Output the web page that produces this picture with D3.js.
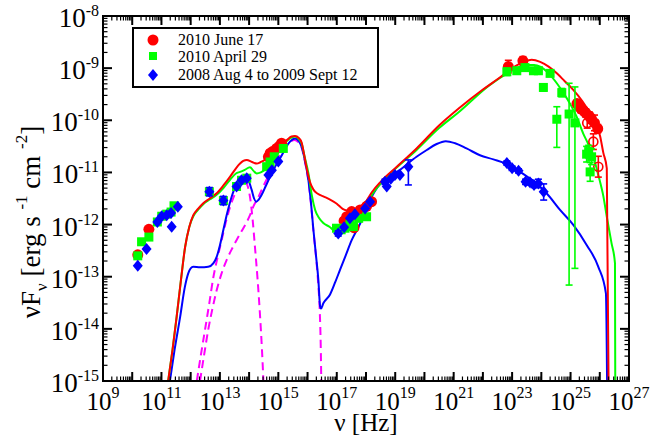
<!DOCTYPE html>
<html><head><meta charset="utf-8">
<script src="https://cdn.jsdelivr.net/npm/d3@7"></script>
<style>body{margin:0;background:#fff}svg{display:block}text{font-family:"Liberation Serif","Times New Roman",serif;fill:#000}</style>
</head><body>
<script>
// ---- data (log10 of nu [Hz] and log10 of nuFnu) ----
const redLogNu = [10.19,10.57,14.66,14.72,14.80,14.94,15.03,15.11,17.25,17.34,17.42,17.51,17.59,17.80,18.02,18.19,22.87,23.37,25.22,25.30,25.36,25.45,25.52,25.64,25.72,25.82,25.93];
const redLogF  = [-12.58,-12.09,-10.70,-10.63,-10.60,-10.54,-10.50,-10.44,-11.93,-11.85,-11.90,-11.75,-12.06,-11.72,-11.65,-11.56,-8.97,-8.86,-9.68,-9.74,-9.78,-9.82,-9.86,-9.92,-9.98,-10.05,-10.16];
const redErr   = [0,0,0,0,0,0,0,0,0,0,0,0,0,0,0,0,0.12,0.08,0.07,0.07,0.08,0.07,0.08,0.08,0.08,0.15,0.08];
const redOpenLogNu = [25.57,25.78,25.95];
const redOpenLogF  = [-10.05,-10.41,-10.89];
const redOpenErr   = [0.10,0.15,0.20];

const greenLogNu = [10.19,10.32,10.57,10.86,11.01,11.18,11.33,11.43,12.64,13.12,13.57,13.74,13.92,14.60,14.72,14.86,15.17,16.99,17.15,17.28,17.45,17.57,17.75,18.02,22.82,23.16,23.44,23.73,23.90,24.07,24.30,24.53,24.70,24.95,25.15,25.55,25.62,25.72,25.67];
const greenLogF  = [-12.60,-12.33,-12.24,-11.95,-11.84,-11.80,-11.76,-11.64,-11.37,-11.54,-11.27,-11.15,-11.11,-10.89,-10.80,-10.70,-10.54,-12.07,-12.10,-12.07,-12.00,-12.04,-11.88,-11.85,-9.07,-9.05,-8.99,-9.05,-9.05,-9.37,-9.10,-9.98,-9.47,-9.88,-10.05,-10.65,-10.60,-10.70,-10.99];
const greenErrLo = [0,0,0,0,0,0,0,0,0,0,0,0,0,0,0,0,0,0,0,0,0,0,0,0,0.07,0.06,0.06,0.05,0.05,0.07,0.06,0.54,0.08,3.28,2.79,0.15,0.12,0.15,0.18];
const greenErrHi = [0,0,0,0,0,0,0,0,0,0,0,0,0,0,0,0,0,0,0,0,0,0,0,0,0.07,0.06,0.06,0.05,0.05,0.07,0.06,0.24,0.08,0.59,0.69,0.15,0.12,0.15,0.18];

const blueLogNu = [10.19,10.49,10.86,11.01,11.18,11.33,11.35,11.56,12.64,13.12,13.57,13.74,13.92,14.66,14.78,15.00,17.05,17.25,17.45,17.62,17.97,18.14,18.65,18.71,18.85,18.99,19.16,19.45,22.82,23.00,23.22,23.46,23.61,23.75,23.90,24.08];
const blueLogF  = [-12.79,-12.47,-11.95,-11.84,-11.82,-11.78,-12.04,-11.66,-11.37,-11.54,-11.27,-11.15,-11.11,-11.05,-10.96,-10.79,-12.17,-12.05,-11.88,-11.80,-11.69,-11.56,-11.18,-11.27,-11.12,-11.05,-11.05,-10.89,-10.82,-10.92,-10.97,-11.18,-11.19,-11.24,-11.21,-11.37];
const blueErrLo = [0,0,0,0,0,0,0,0,0.08,0.08,0,0,0,0,0,0,0.05,0,0,0,0,0,0.05,0,0,0,0,0.35,0.04,0.04,0.04,0.05,0.05,0.05,0.08,0.16];
const blueErrHi = [0,0,0,0,0,0,0,0,0.08,0.08,0,0,0,0,0,0,0.05,0,0,0,0,0,0.05,0,0,0,0,0.13,0.04,0.04,0.04,0.05,0.05,0.05,0.08,0.15];

// model curves
const redModelLogNu = [11.23,11.38,11.52,11.66,11.81,11.95,12.09,12.25,12.43,12.65,12.89,13.12,13.35,13.55,13.69,13.80,13.92,14.10,14.26,14.40,14.54,14.75,14.94,15.12,15.29,15.45,15.57,15.70,15.80,15.88,15.97,16.08,16.20,16.35,16.54,16.77,17.00,17.20,17.40,17.60,17.80,18.02,18.20,18.50,19.00,19.73,20.50,21.16,22.00,22.58,23.00,23.40,23.67,23.96,24.25,24.53,24.80,25.10,25.40,25.67,25.85,26.01,26.12,26.24,26.30];
const redModelLogF  = [-15.0,-14.4,-13.77,-13.1,-12.43,-12.05,-11.82,-11.70,-11.59,-11.50,-11.40,-11.25,-11.08,-10.92,-10.83,-10.78,-10.76,-10.80,-10.83,-10.80,-10.76,-10.66,-10.54,-10.45,-10.38,-10.31,-10.30,-10.34,-10.43,-10.65,-10.92,-11.18,-11.33,-11.41,-11.46,-11.52,-11.60,-11.70,-11.74,-11.76,-11.66,-11.54,-11.38,-11.18,-10.92,-10.54,-10.10,-9.78,-9.41,-9.18,-9.00,-8.88,-8.84,-8.88,-8.97,-9.10,-9.25,-9.42,-9.63,-9.87,-10.06,-10.30,-10.62,-10.92,-15.0];
const greenModelLogNu = [11.23,11.38,11.52,11.66,11.81,11.95,12.09,12.25,12.43,12.65,12.89,13.12,13.35,13.55,13.69,13.85,14.03,14.15,14.26,14.40,14.54,14.75,14.94,15.12,15.29,15.45,15.57,15.70,15.80,15.90,16.03,16.15,16.26,16.40,16.54,16.77,16.88,17.05,17.22,17.40,17.57,17.75,17.97,18.17,18.37,18.80,19.73,20.50,21.16,22.24,22.93,23.20,23.50,23.75,23.96,24.25,24.53,24.75,25.00,25.20,25.43,25.60,25.78,25.95,26.12,26.24,26.40,26.52,26.53];
const greenModelLogF  = [-15.0,-14.4,-13.77,-13.1,-12.43,-12.05,-11.84,-11.72,-11.61,-11.52,-11.43,-11.30,-11.14,-11.02,-10.99,-10.95,-10.90,-10.97,-11.02,-11.00,-10.95,-10.80,-10.67,-10.52,-10.40,-10.33,-10.31,-10.36,-10.45,-10.70,-11.02,-11.45,-11.72,-11.88,-11.97,-12.05,-12.10,-12.11,-12.10,-12.06,-12.01,-11.86,-11.69,-11.46,-11.30,-11.04,-10.57,-10.15,-9.85,-9.32,-9.07,-8.99,-8.94,-8.94,-8.97,-9.10,-9.29,-9.47,-9.70,-9.92,-10.25,-10.45,-10.70,-11.05,-11.45,-11.85,-12.35,-12.74,-15.0];
const blueModelLogNu = [11.29,11.45,11.64,11.80,11.92,12.00,12.09,12.32,12.60,12.78,12.89,13.00,13.12,13.25,13.40,13.55,13.69,13.80,13.92,14.00,14.09,14.17,14.24,14.33,14.43,14.57,14.72,14.92,15.12,15.28,15.40,15.57,15.70,15.80,15.92,16.03,16.12,16.20,16.29,16.37,16.43,16.46,16.54,16.77,16.95,17.11,17.30,17.51,17.80,18.14,18.40,18.71,19.16,19.73,20.08,20.40,20.73,21.05,21.44,21.90,22.36,22.82,23.30,23.75,24.18,24.64,25.10,25.55,25.95,26.21,26.25];
const blueModelLogF  = [-15.0,-14.4,-13.77,-13.2,-12.93,-12.84,-12.81,-12.82,-12.81,-12.74,-12.62,-12.40,-12.10,-11.78,-11.47,-11.25,-11.15,-11.10,-11.09,-11.18,-11.34,-11.50,-11.56,-11.52,-11.43,-11.26,-11.08,-10.86,-10.67,-10.50,-10.41,-10.35,-10.40,-10.51,-10.80,-11.15,-11.60,-12.10,-12.60,-13.06,-13.57,-13.61,-13.51,-13.34,-13.10,-12.87,-12.60,-12.30,-11.98,-11.53,-11.28,-11.11,-10.95,-10.70,-10.57,-10.46,-10.40,-10.44,-10.54,-10.67,-10.75,-10.84,-11.00,-11.18,-11.40,-11.72,-12.01,-12.39,-12.81,-13.32,-15.0];
const torusLogNu = [12.21,12.35,12.49,12.64,12.78,12.92,13.06,13.20,13.35,13.50,13.63,13.75,13.86,13.95,14.03,14.12,14.20,14.29,14.37,14.44,14.49];
const torusLogF  = [-15.0,-14.5,-14.02,-13.5,-13.0,-12.63,-12.30,-11.96,-11.66,-11.43,-11.27,-11.20,-11.18,-11.26,-11.47,-11.90,-12.43,-13.05,-13.71,-14.4,-15.0];
const diskLogNu = [12.32,12.46,12.60,12.75,12.89,13.05,13.23,13.40,13.57,13.75,13.92,14.03,14.14,14.32,14.50,14.72,14.92,15.12,15.28,15.40,15.55,15.68,15.80,15.92,16.03,16.12,16.20,16.29,16.36,16.42,16.45,16.47];
const diskLogF  = [-15.0,-14.5,-14.02,-13.6,-13.26,-12.95,-12.68,-12.48,-12.30,-12.12,-11.95,-11.82,-11.66,-11.47,-11.25,-11.00,-10.80,-10.62,-10.48,-10.42,-10.38,-10.42,-10.53,-10.82,-11.17,-11.62,-12.12,-12.62,-13.10,-13.70,-14.30,-15.0];

const xLabelExps = [9,11,13,15,17,19,21,23,25,27];
const yLabelExps = [-15,-14,-13,-12,-11,-10,-9,-8];
const legendLabels = ["2010 June 17","2010 April 29","2008 Aug 4 to 2009 Sept 12"];

// ---- drawing ----
const W=654,H=436, L=103,R=629,T=16,B=381;
const svg=d3.select("body").append("svg").attr("width",W).attr("height",H);
const x=d3.scaleLog().domain([1e9,1e27]).range([L,R]);
const y=d3.scaleLog().domain([1e-15,1e-8]).range([B,T]);
const P=v=>Math.pow(10,v);
svg.append("defs").append("clipPath").attr("id","clip").append("rect").attr("x",L).attr("y",T).attr("width",R-L).attr("height",B-T);
const plot=svg.append("g").attr("clip-path","url(#clip)");

const line=d3.line().x(d=>x(P(d[0]))).y(d=>y(P(d[1]))).curve(d3.curveMonotoneX);
const zip=(a,b)=>a.map((v,i)=>[v,b[i]]);
plot.append("path").datum(zip(torusLogNu,torusLogF)).attr("d",line).attr("fill","none").attr("stroke","#ff00ff").attr("stroke-width",2).attr("stroke-dasharray","8,5");
plot.append("path").datum(zip(diskLogNu,diskLogF)).attr("d",line).attr("fill","none").attr("stroke","#ff00ff").attr("stroke-width",2).attr("stroke-dasharray","8,5");
plot.append("path").datum(zip(blueModelLogNu,blueModelLogF)).attr("d",line).attr("fill","none").attr("stroke","#0000ff").attr("stroke-width",2);
plot.append("path").datum(zip(greenModelLogNu,greenModelLogF)).attr("d",line).attr("fill","none").attr("stroke","#00ff00").attr("stroke-width",2);
plot.append("path").datum(zip(redModelLogNu,redModelLogF)).attr("d",line).attr("fill","none").attr("stroke","#ff0000").attr("stroke-width",2);

function errBars(nu,f,lo,hi,col){
  const g=plot.append("g").attr("stroke",col).attr("stroke-width",1.6);
  nu.forEach((n,i)=>{
    if(!lo[i]&&!hi[i])return;
    const cx=x(P(n)), y1=y(P(f[i]-lo[i])), y2=y(P(f[i]+hi[i]));
    g.append("line").attr("x1",cx).attr("x2",cx).attr("y1",y1).attr("y2",y2);
    g.append("line").attr("x1",cx-3.5).attr("x2",cx+3.5).attr("y1",y1).attr("y2",y1);
    g.append("line").attr("x1",cx-3.5).attr("x2",cx+3.5).attr("y1",y2).attr("y2",y2);
  });
}
errBars(redLogNu,redLogF,redErr,redErr,"#ff0000");
errBars(redOpenLogNu,redOpenLogF,redOpenErr,redOpenErr,"#ff0000");
plot.append("g").selectAll("circle").data(d3.range(redLogNu.length)).join("circle")
  .attr("cx",i=>x(P(redLogNu[i]))).attr("cy",i=>y(P(redLogF[i]))).attr("r",5.5).attr("fill","#ff0000");
plot.append("g").selectAll("circle").data(d3.range(redOpenLogNu.length)).join("circle")
  .attr("cx",i=>x(P(redOpenLogNu[i]))).attr("cy",i=>y(P(redOpenLogF[i]))).attr("r",4.5).attr("fill","none").attr("stroke","#ff0000").attr("stroke-width",1.6);
errBars(greenLogNu,greenLogF,greenErrLo,greenErrHi,"#00ff00");
plot.append("g").selectAll("rect").data(d3.range(greenLogNu.length)).join("rect")
  .attr("x",i=>x(P(greenLogNu[i]))-4.5).attr("y",i=>y(P(greenLogF[i]))-4.5).attr("width",9).attr("height",9).attr("fill","#00ff00");
errBars(blueLogNu,blueLogF,blueErrLo,blueErrHi,"#0000ff");
const diamond="M0,-6L5,0L0,6L-5,0Z";
plot.append("g").selectAll("path").data(d3.range(blueLogNu.length)).join("path")
  .attr("d",diamond).attr("transform",i=>`translate(${x(P(blueLogNu[i]))},${y(P(blueLogF[i]))})`).attr("fill","#0000ff");

// frame + ticks
const ax=svg.append("g").attr("stroke","#000");
ax.append("rect").attr("x",L).attr("y",T).attr("width",R-L).attr("height",B-T).attr("fill","none").attr("stroke-width",2);
for(let e=9;e<=27;e++){
  for(let k=1;k<=9;k++){
    if(e===27&&k>1)break;
    const v=k*P(e), px=x(v), len=k===1?9:4.5;
    ax.append("line").attr("x1",px).attr("x2",px).attr("y1",B).attr("y2",B-len).attr("stroke-width",k===1?2:1.2);
    ax.append("line").attr("x1",px).attr("x2",px).attr("y1",T).attr("y2",T+len).attr("stroke-width",k===1?2:1.2);
  }
}
for(let e=-15;e<=-8;e++){
  for(let k=1;k<=9;k++){
    if(e===-8&&k>1)break;
    const v=k*P(e), py=y(v), len=k===1?9:4.5;
    ax.append("line").attr("y1",py).attr("y2",py).attr("x1",L).attr("x2",L+len).attr("stroke-width",k===1?2:1.2);
    ax.append("line").attr("y1",py).attr("y2",py).attr("x1",R).attr("x2",R-len).attr("stroke-width",k===1?2:1.2);
  }
}
// tick labels
xLabelExps.forEach(e=>{
  const t=svg.append("text").attr("x",x(P(e))).attr("y",410).attr("text-anchor","middle").attr("font-size",25);
  t.append("tspan").text("10");
  t.append("tspan").attr("dy",-12).attr("font-size",16).text(e);
});
yLabelExps.forEach(e=>{
  const t=svg.append("text").attr("x",99).attr("y",y(P(e))+11).attr("text-anchor","end").attr("font-size",27);
  t.append("tspan").text("10");
  t.append("tspan").attr("dy",-11).attr("font-size",16).text(e);
});
// axis titles
const xt=svg.append("text").attr("x",366).attr("y",431).attr("text-anchor","middle").attr("font-size",25);
xt.append("tspan").text("\u03bd [Hz]");
const yt=svg.append("text").attr("transform","translate(40,222) rotate(-90)").attr("text-anchor","middle").attr("font-size",27);
yt.append("tspan").text("\u03bdF");
yt.append("tspan").attr("dy",7).attr("font-size",17).text("\u03bd");
yt.append("tspan").attr("dy",-7).text(" [erg s ");
yt.append("tspan").attr("dy",-13).attr("font-size",17).text("-1");
yt.append("tspan").attr("dy",13).text("  cm ");
yt.append("tspan").attr("dy",-13).attr("font-size",17).text("-2");
yt.append("tspan").attr("dy",13).text("]");

// legend
const lg=svg.append("g");
lg.append("rect").attr("x",133).attr("y",28).attr("width",245).attr("height",59).attr("fill","#fff").attr("stroke","#000").attr("stroke-width",2);
lg.append("circle").attr("cx",153).attr("cy",40).attr("r",5.5).attr("fill","#ff0000");
lg.append("rect").attr("x",149).attr("y",52).attr("width",8).attr("height",8).attr("fill","#00ff00");
lg.append("path").attr("d",diamond).attr("transform","translate(153,75)").attr("fill","#0000ff");
[45,62,80].forEach((by,i)=>lg.append("text").attr("x",178).attr("y",by).attr("font-size",16).text(legendLabels[i]));
</script>
</body></html>
